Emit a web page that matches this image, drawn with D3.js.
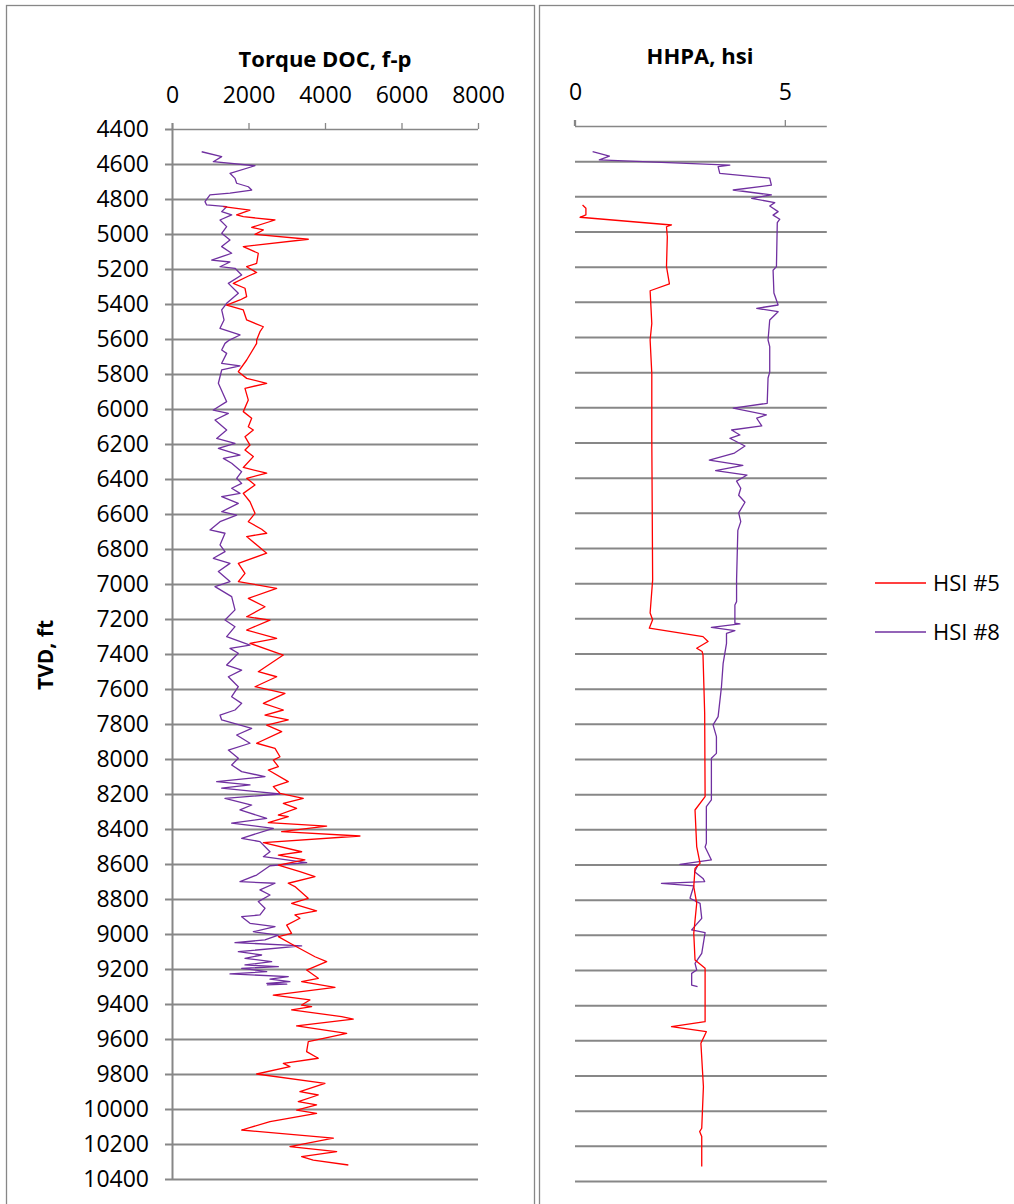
<!DOCTYPE html>
<html><head><meta charset="utf-8">
<script src="https://cdn.jsdelivr.net/npm/d3@7"></script>
<style>
html,body{margin:0;padding:0;background:#fff;}
svg{display:block;font-family:"Open Sans",Calibri,sans-serif;}
</style></head>
<body>
<svg id="chart" width="1014" height="1204"></svg>
<script>
// ---------- DATA ----------
const depthTicks = d3.range(4400, 10401, 200);
const torqueTicks = [0, 2000, 4000, 6000, 8000];
const hhpaTicks = [0, 5];
const seriesNames = ["HSI #5", "HSI #8"];
const seriesColors = ["#FF0000", "#7030A0"];

// Torque DOC, f-p  [TVD ft, value]
const torqueHSI8 = [
[4530,776],[4558,1299],[4587,1080],[4610,2170],[4653,1516],[4682,1647],[4710,1690],[4730,1995],[4749,2083],
[4767,1516],[4777,993],[4815,863],[4834,906],[4844,1429],[4872,1299],[4891,1560],[4920,1255],[4958,1429],
[4996,1299],[5034,1516],[5072,1299],[5110,1560],[5149,1037],[5160,1516],[5187,1255],[5196,1647],[5234,1821],
[5282,1473],[5339,1734],[5396,1429],[5434,1299],[5491,1360],[5539,1255],[5577,1778],[5606,1500],[5625,1386],
[5663,1299],[5682,1429],[5739,1299],[5754,1778],[5777,1299],[5853,1212],[5958,1429],[6006,1080],[6025,1473],
[6063,1124],[6120,1429],[6168,1168],[6196,1647],[6225,1212],[6263,1778],[6282,1342],[6310,1560],[6358,1821],
[6396,1690],[6425,1821],[6453,1560],[6482,1778],[6501,1299],[6539,1734],[6587,1299],[6606,1690],[6644,1255],
[6691,993],[6710,1386],[6777,1255],[6815,1386],[6853,1080],[6882,1516],[6929,1212],[6986,1516],[7015,1124],
[7072,1560],[7148,1647],[7206,1386],[7244,1647],[7301,1429],[7349,2039],[7368,1516],[7396,1734],[7463,1429],
[7492,1821],[7530,1473],[7587,1734],[7644,1560],[7682,1821],[7720,1647],[7749,1255],[7777,1299],[7825,2083],
[7863,1690],[7910,2039],[7949,1473],[7996,1734],[8034,1560],[8072,1821],[8101,2431],[8129,1168],[8148,2039],
[8167,1299],[8200,2823],[8225,1386],[8263,2083],[8291,1778],[8339,2475],[8367,1560],[8396,2649],[8453,1821],
[8472,2300],[8530,2562],[8558,2388],[8592,3520],[8610,2562],[8663,2213],[8701,1778],[8710,2693],[8748,2300],
[8777,2562],[8815,2256],[8853,2431],[8891,2300],[8901,1821],[8939,2039],[8958,2693],[8987,2126],[9006,2780],
[9034,2431],[9049,1647],[9068,3389],[9101,1734],[9120,2344],[9139,1908],[9158,2606],[9177,1908],[9187,2780],
[9196,1821],[9215,2475],[9228,1516],[9243,3040],[9258,2562],[9272,3083],[9282,2480],[9287,3000],[9291,2480]
];
const torqueHSI5 = [
[4844,1342],[4863,2039],[4891,1690],[4901,1864],[4920,2693],[4962,2083],[4977,2388],[5002,2170],[5030,3563],
[5072,1864],[5110,2256],[5168,2213],[5187,1952],[5220,2213],[5240,2000],[5282,1603],[5310,1908],[5358,1952],
[5377,1778],[5406,1429],[5434,1864],[5491,1952],[5530,2388],[5558,2300],[5606,2213],[5625,2213],[5720,1952],
[5787,1734],[5825,1952],[5853,2475],[5882,1908],[5949,1995],[6015,1864],[6053,2083],[6101,1995],[6120,2126],
[6158,1908],[6206,2039],[6234,1908],[6272,2126],[6334,1864],[6367,2475],[6396,1952],[6434,2170],[6482,1864],
[6530,2039],[6596,2170],[6644,1995],[6687,2344],[6710,2475],[6729,1952],[6824,2475],[6882,1734],[6939,1908],
[6986,1734],[7025,2736],[7082,1995],[7130,2431],[7187,1952],[7206,2562],[7263,1952],[7311,2736],[7339,2039],
[7406,2910],[7501,2256],[7530,2736],[7587,2170],[7625,2953],[7682,2388],[7720,2910],[7749,2431],[7777,3040],
[7806,2475],[7844,2867],[7910,2213],[7939,2693],[7987,2823],[8006,2649],[8044,2780],[8063,2518],[8129,3040],
[8158,2649],[8196,2823],[8225,3432],[8253,2910],[8282,3258],[8320,2780],[8329,3040],[8364,2518],[8383,4043],
[8415,2867],[8440,4914],[8478,2388],[8530,3389],[8549,2780],[8577,3475],[8606,2780],[8644,3345],[8672,3738],
[8710,3040],[8729,3214],[8796,3560],[8825,3127],[8868,3780],[8891,3214],[8910,3345],[8949,2998],[8996,3127],
[9015,2780],[9063,3171],[9130,3738],[9158,4043],[9206,3519],[9253,3824],[9272,3389],[9305,4261],[9349,2649],
[9377,3606],[9406,3389],[9415,3650],[9434,3127],[9472,4436],[9487,4740],[9525,3258],[9568,4567],[9587,4175],
[9615,3563],[9672,3519],[9710,3824],[9739,2910],[9758,3083],[9800,2213],[9853,4000],[9901,3345],[9920,3824],
[9958,3301],[9977,3780],[10006,3258],[10025,3780],[10072,2562],[10120,1821],[10167,4218],[10215,3084],
[10243,4305],[10272,3389],[10292,3693],[10320,4610]
];

// HHPA, hsi  [TVD ft, value]
const hhpaHSI8 = [
[4546,0.42],[4571,0.82],[4593,0.58],[4622,3.69],[4631,3.41],[4669,3.45],[4697,4.64],[4736,4.68],[4764,3.77],
[4792,4.68],[4811,4.21],[4836,4.76],[4855,4.64],[4887,4.84],[4907,4.72],[4930,4.88],[4950,4.82],[5200,4.80],
[5220,4.72],[5350,4.74],[5418,4.84],[5437,4.33],[5456,4.84],[5503,4.64],[5617,4.60],[5655,4.64],[5800,4.64],
[5833,4.60],[5977,4.58],[6005,3.77],[6043,4.56],[6062,4.33],[6106,4.45],[6129,3.73],[6157,3.93],[6176,3.69],
[6220,4.05],[6260,3.80],[6300,3.20],[6330,4.00],[6360,3.35],[6385,4.10],[6420,3.85],[6460,3.95],[6500,3.90],
[6540,4.05],[6600,3.90],[6650,3.95],[6700,3.88],[6982,3.85],[7105,3.85],[7124,3.81],[7228,3.81],[7232,3.93],
[7251,3.25],[7270,3.81],[7285,3.61],[7342,3.61],[7456,3.53],[7589,3.49],[7759,3.41],[7806,3.29],[7873,3.37],
[7968,3.37],[7996,3.25],[8110,3.25],[8233,3.25],[8271,3.13],[8479,3.13],[8500,3.10],[8574,3.25],[8599,2.50],
[8603,2.93],[8641,2.85],[8679,3.05],[8697,3.09],[8707,2.06],[8722,2.83],[8792,2.74],[8821,2.98],[8906,3.02],
[8972,2.78],[8987,3.10],[9105,3.02],[9162,2.86],[9200,2.90],[9219,2.78],[9286,2.78],[9295,2.92]
];
const hhpaHSI5 = [
[4849,0.18],[4868,0.26],[4906,0.26],[4919,0.12],[4963,2.30],[4973,2.18],[5030,2.20],[5200,2.18],[5298,2.25],
[5337,1.79],[5523,1.83],[5617,1.79],[5807,1.83],[6176,1.83],[6982,1.85],[7170,1.79],[7208,1.85],[7256,1.77],
[7304,3.05],[7332,3.17],[7370,2.90],[7389,3.03],[7408,3.05],[7740,3.09],[8214,3.10],[8290,2.86],[8498,2.90],
[8593,2.98],[8622,2.86],[8726,2.83],[8821,2.90],[8991,2.83],[9143,2.86],[9190,3.10],[9390,3.10],[9494,3.10],
[9522,2.30],[9551,3.13],[9617,3.00],[9864,3.06],[10100,3.02],[10119,2.97],[10147,3.02],[10318,3.02]
];

// ---------- DRAW ----------
const svg = d3.select("#chart");
const GRID = "#878787";
const FS = 23;

svg.append("rect").attr("width",1014).attr("height",1204).attr("fill","#fff");
// chart frames
svg.append("rect").attr("x",6.5).attr("y",5.5).attr("width",528).attr("height",1220)
  .attr("fill","none").attr("stroke",GRID).attr("stroke-width",1.3);
svg.append("rect").attr("x",539.5).attr("y",5.5).attr("width",520).attr("height",1220)
  .attr("fill","none").attr("stroke",GRID).attr("stroke-width",1.3);

function panel(opts){
  const {x0,x1,y0,y1,xDomain,xTicks,title,titleX,titleY,yLabels,seriesA,seriesB} = opts;
  const x = d3.scaleLinear().domain(xDomain).range([x0,x1]);
  const y = d3.scaleLinear().domain([4400,10400]).range([y0,y1]);
  const g = svg.append("g");
  // gridlines
  const grid = g.append("g").attr("transform",`translate(${x0},0)`)
    .call(d3.axisLeft(y).tickValues(depthTicks).tickSize(-(x1-x0)).tickFormat(""));
  grid.select(".domain").remove();
  grid.selectAll(".tick line").attr("stroke",GRID).attr("stroke-width",2);
  grid.selectAll(".tick").filter(d=>d===4400).remove();
  if (yLabels){
    const ya = g.append("g").attr("transform",`translate(${x0},0)`)
      .call(d3.axisLeft(y).tickValues(depthTicks).tickSize(7).tickSizeOuter(0).tickPadding(16).tickFormat(d3.format("d")));
    ya.select(".domain").attr("stroke",GRID).attr("stroke-width",2)
      .attr("d",`M0.5,${y0-6}V${y1}`);
    ya.selectAll(".tick line").attr("stroke",GRID).attr("stroke-width",2);
    ya.selectAll("text").attr("font-size",FS).attr("fill","#000").attr("font-family","'Open Sans',sans-serif");
  } else {
    g.append("line").attr("x1",x0-0.5).attr("x2",x0-0.5).attr("y1",y0-6).attr("y2",y0).attr("stroke",GRID).attr("stroke-width",1.3);
  }
  const xa = g.append("g").attr("transform",`translate(0,${y0})`)
    .call(d3.axisTop(x).tickValues(xTicks).tickSize(6).tickSizeOuter(0).tickPadding(20).tickFormat(d3.format("d")));
  xa.select(".domain").attr("stroke",GRID).attr("stroke-width",1.3).attr("d",`M${x0},0.5H${x1}`);
  xa.selectAll(".tick line").attr("stroke",GRID).attr("stroke-width",1.3);
  xa.selectAll("text").attr("font-size",FS).attr("fill","#000").attr("font-family","'Open Sans',sans-serif");

  svg.append("text").attr("x",titleX).attr("y",titleY).attr("text-anchor","middle")
    .attr("font-size",22).attr("font-weight","bold").attr("fill","#000").text(title);

  const line = d3.line().x(d=>x(d[1])).y(d=>y(d[0]));
  [[seriesB,seriesColors[1]],[seriesA,seriesColors[0]]].forEach(([data,col])=>{
    g.append("path").datum(data).attr("d",line).attr("fill","none")
      .attr("stroke",col).attr("stroke-width",1.3).attr("stroke-linejoin","round");
  });
}

panel({x0:172,x1:478,y0:129,y1:1179,xDomain:[0,8000],xTicks:torqueTicks,
  title:"Torque DOC, f-p",titleX:325,titleY:67,yLabels:true,seriesA:torqueHSI5,seriesB:torqueHSI8});
panel({x0:575,x1:826.8,y0:126,y1:1181,xDomain:[0,6],xTicks:hhpaTicks,
  title:"HHPA, hsi",titleX:700,titleY:64,yLabels:false,seriesA:hhpaHSI5,seriesB:hhpaHSI8});

// y-axis title
svg.append("text").attr("transform","translate(53,655) rotate(-90)").attr("text-anchor","middle")
  .attr("font-size",21).attr("font-weight","bold").attr("fill","#000").text("TVD, ft");

// legend
const leg = svg.append("g");
seriesNames.forEach((n,i)=>{
  const yy = 583 + i*49;
  leg.append("line").attr("x1",875).attr("x2",926).attr("y1",yy).attr("y2",yy)
    .attr("stroke",seriesColors[i]).attr("stroke-width",1.3);
  leg.append("text").attr("x",933).attr("y",yy+8).attr("font-size",22).attr("fill","#000").text(n);
});
</script>
</body></html>
